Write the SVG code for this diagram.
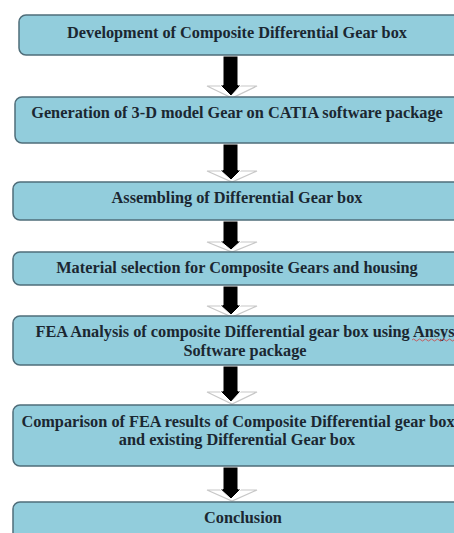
<svg xmlns="http://www.w3.org/2000/svg" width="454" height="533" viewBox="0 0 454 533">
<style>
.box{fill:#92cddc;stroke:#4f6d79;stroke-width:1.5}
.t{font-family:"Liberation Serif","Times New Roman",serif;font-weight:bold;font-size:16.3px;fill:#1b2731;text-anchor:middle}
.head{fill:#ffffff;stroke:#c8c8c8;stroke-width:1.2}
.blk{fill:#000000;stroke:#ffffff;stroke-width:1}
</style>
<rect width="454" height="533" fill="#ffffff"/>
<g id="connectors">
  <g><polygon class="head" points="207,86 257,86 232,98"/><polygon class="blk" points="223,56 238,56 238,85 241,85 231,96 220,85 223,85"/></g>
  <g><polygon class="head" points="207,171 257,171 232,182"/><polygon class="blk" points="223,144 238,144 238,170 241,170 231,180 220,170 223,170"/></g>
  <g><polygon class="head" points="207,242 257,242 232,252"/><polygon class="blk" points="223,221 238,221 238,241 241,241 231,250 220,241 223,241"/></g>
  <g><polygon class="head" points="207,306 257,306 232,317"/><polygon class="blk" points="223,286 238,286 238,305 241,305 231,315 220,305 223,305"/></g>
  <g><polygon class="head" points="207,392 257,392 232,404"/><polygon class="blk" points="223,366 238,366 238,391 241,391 231,402 220,391 223,391"/></g>
  <g><polygon class="head" points="207,490 257,490 232,501"/><polygon class="blk" points="223,467 238,467 238,489 241,489 231,499 220,489 223,489"/></g>
</g>
<g id="n1"><rect class="box" x="19" y="15" width="460" height="40" rx="7"/><text class="t" x="237" y="37.5">Development of Composite Differential Gear box</text></g>
<g id="n2"><rect class="box" x="15" y="97" width="460" height="46" rx="7"/><text class="t" x="237" y="118">Generation of 3-D model Gear on CATIA software package</text></g>
<g id="n3"><rect class="box" x="13" y="182" width="460" height="38" rx="7"/><text class="t" x="237" y="203">Assembling of Differential Gear box</text></g>
<g id="n4"><rect class="box" x="13" y="252" width="460" height="33" rx="7"/><text class="t" x="237" y="273">Material selection for Composite Gears and housing</text></g>
<g id="n5"><rect class="box" x="13" y="316" width="460" height="49" rx="7"/><text class="t" x="245" y="337">FEA Analysis of composite Differential gear box using Ansys</text><text class="t" x="245" y="355.5">Software package</text><path d="M412,340 q1.5,-2 3,0 t3,0 t3,0 t3,0 t3,0 t3,0 t3,0 t3,0 t3,0 t3,0 t3,0 t3,0 t3,0 t3,0" fill="none" stroke="#d04040" stroke-width="0.8"/></g>
<g id="n6"><rect class="box" x="13" y="405" width="460" height="61" rx="7"/><text class="t" x="238" y="427">Comparison of FEA results of Composite Differential gear box</text><text class="t" x="237" y="445">and existing Differential Gear box</text></g>
<g id="n7"><rect class="box" x="13" y="502" width="460" height="45" rx="7"/><text class="t" x="243" y="523">Conclusion</text></g>
</svg>
